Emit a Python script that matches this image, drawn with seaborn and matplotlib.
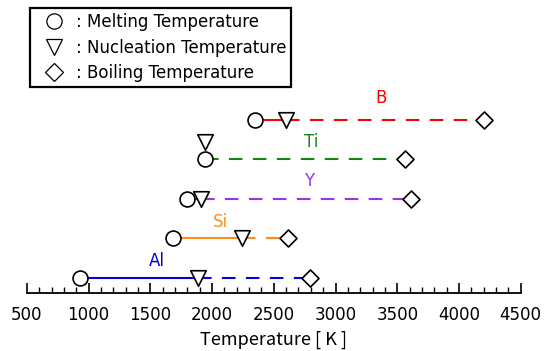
import matplotlib
matplotlib.use('Agg')
import matplotlib.pyplot as plt
from matplotlib.lines import Line2D
from matplotlib.ticker import MultipleLocator
import seaborn as sns
import pandas as pd

# Data (temperatures in K)
elements = ['Al', 'Si', 'Y', 'Ti', 'B']
melting = [933, 1687, 1799, 1941, 2349]
nucleation = [1885, 2240, 1910, 1941, 2600]
boiling = [2792, 2615, 3609, 3560, 4200]
colors = ['#0000dd', '#ff8c1a', '#9933ee', '#118811', '#ff0000']
# Ti nucleation marker is lifted above its row in the original
nucl_offset = [0, 0, 0, 0.42, 0]
label_x = [1550, 2070, 2790, 2800, 3370]
label_offset = [0.42, 0.42, 0.45, 0.42, 0.55]

sns.set_style('ticks')
plt.rcParams['font.family'] = ['DejaVu Sans']
plt.rcParams['text.color'] = 'black'
plt.rcParams['axes.labelcolor'] = 'black'

rows = list(range(len(elements)))
df = pd.DataFrame({'element': elements, 'row': rows,
                   'melting': melting, 'nucleation': nucleation,
                   'boiling': boiling,
                   'nrow': [r + o for r, o in zip(rows, nucl_offset)]})

fig = plt.figure(figsize=(5.47, 3.51), dpi=100)
ax = fig.add_axes([0.049, 0.165, 0.903, 0.63])

for i, el in enumerate(elements):
    # solid: melting -> nucleation, dashed: nucleation -> boiling
    ax.plot([melting[i], nucleation[i]], [i, i], color=colors[i], lw=1.5,
            solid_capstyle='butt', zorder=1)
    ax.plot([nucleation[i], boiling[i]], [i, i], color=colors[i], lw=1.5,
            ls=(0, (6.5, 5)), zorder=1)
    ax.text(label_x[i], i + label_offset[i], el, color=colors[i],
            fontsize=12, ha='center', va='center')

mk = dict(facecolor='white', edgecolor='black', linewidth=1.2, zorder=3,
          legend=False)
sns.scatterplot(data=df, x='melting', y='row', marker='o', s=115, ax=ax, **mk)
sns.scatterplot(data=df, x='nucleation', y='nrow', marker='v', s=125, ax=ax, **mk)
sns.scatterplot(data=df, x='boiling', y='row', marker='D', s=75, ax=ax, **mk)

ax.set_xlim(500, 4500)
ax.set_ylim(-0.38, 5.2)
ax.xaxis.set_major_locator(MultipleLocator(500))
ax.xaxis.set_minor_locator(MultipleLocator(100))
ax.tick_params(axis='x', which='major', direction='in', length=7, width=1.2,
               labelsize=12, pad=9, colors='black')
ax.tick_params(axis='x', which='minor', direction='in', length=4, width=1,
               colors='black')
ax.set_yticks([])
ax.set_ylabel('')
for s in ['left', 'right', 'top']:
    ax.spines[s].set_visible(False)
ax.spines['bottom'].set_linewidth(1.3)
ax.spines['bottom'].set_color('black')
ax.set_xlabel('Temperature [ K ]', fontsize=13, color='black',
              family=['Noto Sans CJK JP', 'DejaVu Sans'], labelpad=5)

handles = [
    Line2D([], [], ls='none', marker='o', ms=11, mfc='white', mec='black', mew=0.9),
    Line2D([], [], ls='none', marker='v', ms=12, mfc='white', mec='black', mew=0.9),
    Line2D([], [], ls='none', marker='D', ms=9, mfc='white', mec='black', mew=0.9),
]
labels = [': Melting Temperature', ': Nucleation Temperature',
          ': Boiling Temperature']
leg = fig.legend(handles, labels, loc='upper left',
                 bbox_to_anchor=(0.055, 0.977), fontsize=12, frameon=True,
                 fancybox=False, edgecolor='black', framealpha=1,
                 handlelength=2.3, handletextpad=0.15, borderpad=0.3,
                 labelspacing=0.45, borderaxespad=0, labelcolor='black')
leg.get_frame().set_linewidth(1.6)

fig.savefig('out.png', dpi=100)
